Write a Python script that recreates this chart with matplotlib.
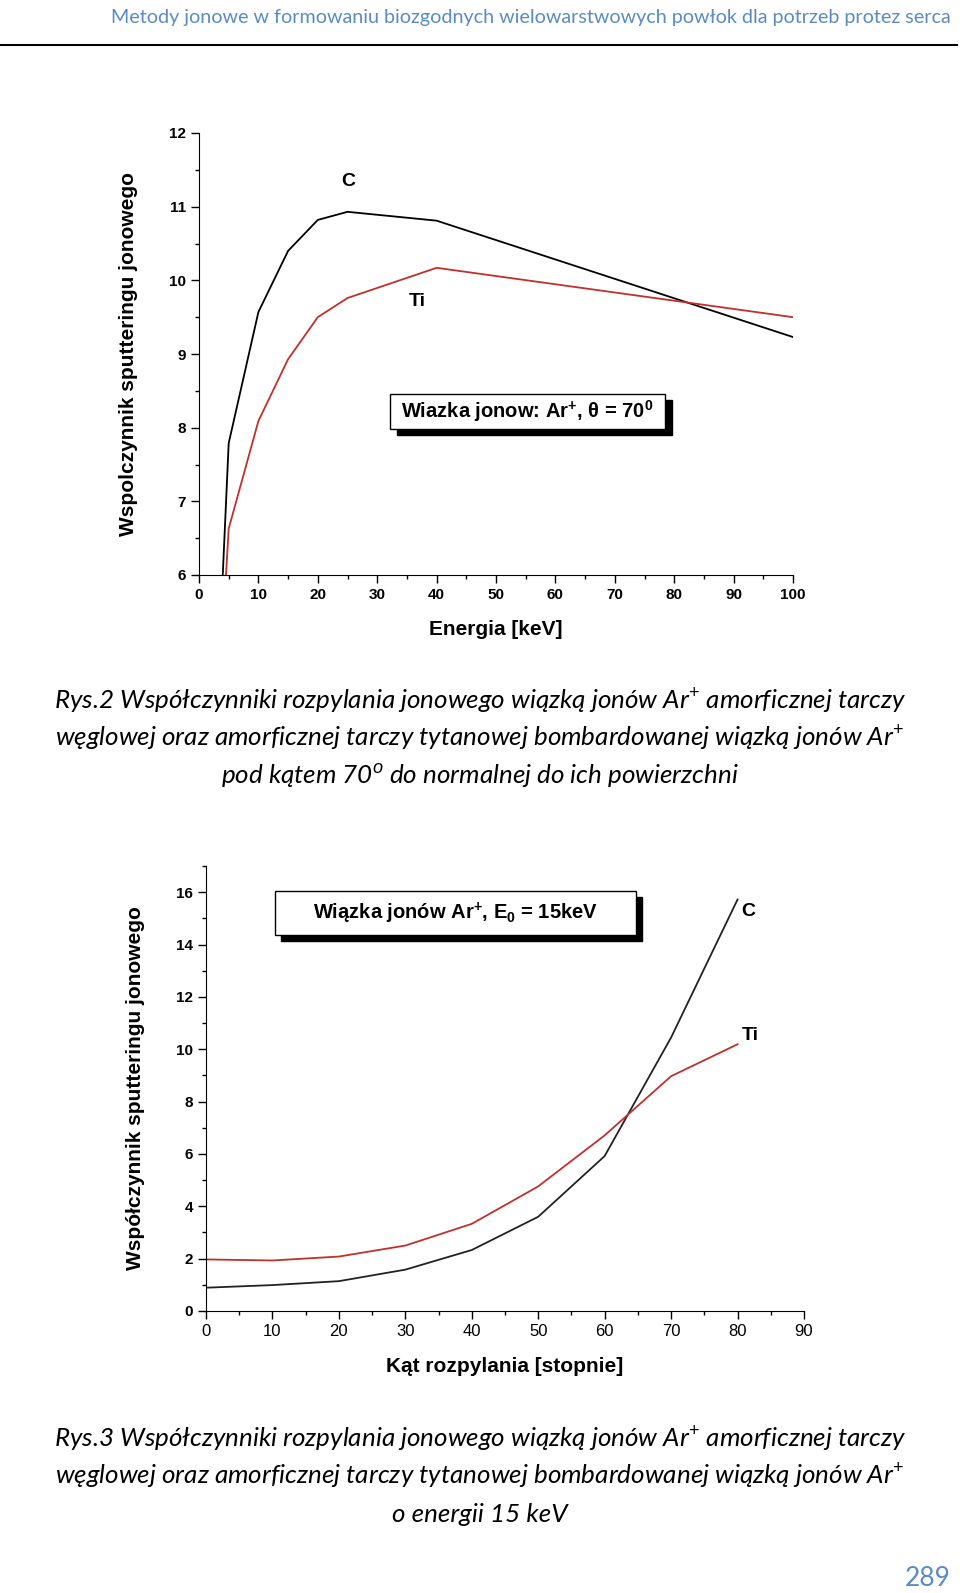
import matplotlib
matplotlib.use('Agg')
import matplotlib.pyplot as plt
from matplotlib.patches import Rectangle
from matplotlib.ticker import MultipleLocator

# Data read from the page
energy_c = [4, 5, 10, 15, 20, 25, 40, 100]
yield_c_energy = [6.0, 7.79, 9.57, 10.40, 10.82, 10.93, 10.81, 9.23]
energy_ti = [4.55, 5, 10, 15, 20, 25, 40, 100]
yield_ti_energy = [6.0, 6.63, 8.09, 8.93, 9.50, 9.76, 10.17, 9.50]

angle = [0, 10, 20, 30, 40, 50, 60, 70, 80]
yield_c_angle = [0.89, 0.99, 1.14, 1.58, 2.33, 3.60, 5.92, 10.45, 15.72]
yield_ti_angle = [1.97, 1.93, 2.08, 2.50, 3.33, 4.76, 6.71, 8.97, 10.19]

header = 'Metody jonowe w formowaniu biozgodnych wielowarstwowych powłok dla potrzeb protez serca'
caption2 = ['Rys.2 Współczynniki rozpylania jonowego wiązką jonów Ar$^{+}$ amorficznej tarczy',
            'węglowej oraz amorficznej tarczy tytanowej bombardowanej wiązką jonów Ar$^{+}$',
            'pod kątem 70$^{o}$ do normalnej do ich powierzchni']
caption3 = ['Rys.3 Współczynniki rozpylania jonowego wiązką jonów Ar$^{+}$ amorficznej tarczy',
            'węglowej oraz amorficznej tarczy tytanowej bombardowanej wiązką jonów Ar$^{+}$',
            'o energii 15 keV']
page_no = '289'

plt.rcParams['mathtext.fontset'] = 'custom'
plt.rcParams['mathtext.rm'] = 'Liberation Sans'
plt.rcParams['mathtext.it'] = 'Liberation Sans:italic'
plt.rcParams['mathtext.bf'] = 'Liberation Sans:bold'

chart_font = 'Liberation Sans'
red = '#c0302c'
blue = '#5b8bc4'

fig = plt.figure(figsize=(9.6, 15.93), dpi=100)

# page header
fig.text(951 / 960, 1 - 17 / 1593, header, ha='right', va='center',
         fontsize=14.2, family='Lato', color=blue)
fig.add_artist(plt.Line2D([0, 957 / 960], [1 - 45 / 1593] * 2, color='black', lw=1.5))


def style_axes(ax, bold_x=True, xsize=11):
    ax.spines['top'].set_visible(False)
    ax.spines['right'].set_visible(False)
    ax.tick_params(which='major', direction='out', length=6, width=1)
    ax.tick_params(which='minor', direction='out', length=3, width=1)
    for lab in ax.get_yticklabels():
        lab.set_fontfamily(chart_font)
        lab.set_fontweight('bold')
        lab.set_fontsize(11)
    for lab in ax.get_xticklabels():
        lab.set_fontfamily(chart_font)
        lab.set_fontweight('bold' if bold_x else 'normal')
        lab.set_fontsize(xsize)


def shadow_box(ax, x0, x1, y0, y1, dx, dy, text):
    ax.add_patch(Rectangle((x0 + dx, y0 - dy), x1 - x0, y1 - y0, facecolor='black',
                           edgecolor='black', clip_on=False, zorder=3))
    ax.add_patch(Rectangle((x0, y0), x1 - x0, y1 - y0, facecolor='white',
                           edgecolor='black', lw=1, clip_on=False, zorder=4))
    ax.text((x0 + x1) / 2, (y0 + y1) / 2, text, ha='center', va='center', zorder=5,
            fontsize=14.5, fontweight='bold', family=chart_font)


# Rys.2 - yield vs energy
ax1 = fig.add_axes([199 / 960, 1 - 575 / 1593, 594 / 960, 442 / 1593])
ax1.plot(energy_c, yield_c_energy, color='black', lw=1.3)
ax1.plot(energy_ti, yield_ti_energy, color=red, lw=1.3)
ax1.set_xlim(0, 100)
ax1.set_ylim(6, 12)
ax1.xaxis.set_major_locator(MultipleLocator(10))
ax1.xaxis.set_minor_locator(MultipleLocator(5))
ax1.yaxis.set_major_locator(MultipleLocator(1))
ax1.yaxis.set_minor_locator(MultipleLocator(0.5))
style_axes(ax1)
ax1.set_xlabel('Energia [keV]', fontsize=15, fontweight='bold', family=chart_font, labelpad=13)
ax1.set_ylabel('Wspolczynnik sputteringu jonowego', fontsize=15, fontweight='bold',
               family=chart_font, labelpad=22)
ax1.text(25.2, 11.34, 'C', ha='center', va='center', fontsize=14, fontweight='bold', family=chart_font)
ax1.text(36.7, 9.71, 'Ti', ha='center', va='center', fontsize=14, fontweight='bold', family=chart_font)
shadow_box(ax1, 32.2, 78.4, 7.98, 8.46, 1.2, 0.08, r'Wiazka jonow: Ar$^{\mathbf{+}}$, θ = 70$^{\mathbf{0}}$')

for i, line in enumerate(caption2):
    fig.text(0.5, 1 - (701 + 37.5 * i) / 1593, line, ha='center', va='center',
             fontsize=18.7, family='Lato', style='italic')

# Rys.3 - yield vs angle
ax2 = fig.add_axes([206 / 960, 1 - 1311 / 1593, 598 / 960, 445 / 1593])
ax2.plot(angle, yield_c_angle, color='#222222', lw=1.3)
ax2.plot(angle, yield_ti_angle, color=red, lw=1.3)
ax2.set_xlim(0, 90)
ax2.set_ylim(0, 17)
ax2.xaxis.set_major_locator(MultipleLocator(10))
ax2.xaxis.set_minor_locator(MultipleLocator(5))
ax2.yaxis.set_major_locator(MultipleLocator(2))
ax2.yaxis.set_minor_locator(MultipleLocator(1))
style_axes(ax2, bold_x=False, xsize=12)
ax2.set_xlabel('Kąt rozpylania [stopnie]', fontsize=15, fontweight='bold', family=chart_font, labelpad=13)
ax2.set_ylabel('Współczynnik sputteringu jonowego', fontsize=15, fontweight='bold',
               family=chart_font, labelpad=22)
ax2.text(81.6, 15.25, 'C', ha='center', va='center', fontsize=14, fontweight='bold', family=chart_font)
ax2.text(81.9, 10.54, 'Ti', ha='center', va='center', fontsize=14, fontweight='bold', family=chart_font)
shadow_box(ax2, 10.4, 64.7, 14.36, 16.04, 0.9, 0.23, r'Wiązka jonów Ar$^{\mathbf{+}}$, E$_{\mathbf{0}}$ = 15keV')

for i, line in enumerate(caption3):
    fig.text(0.5, 1 - (1439 + 37.5 * i) / 1593, line, ha='center', va='center',
             fontsize=18.7, family='Lato', style='italic')

fig.text(951 / 960, 1 - 1578 / 1593, page_no, ha='right', va='center',
         fontsize=19, family='Lato', color=blue)

fig.savefig('out.png', dpi=100)
